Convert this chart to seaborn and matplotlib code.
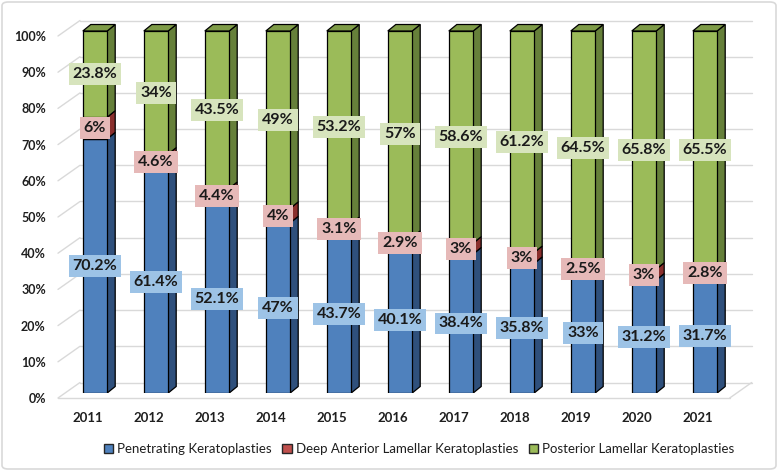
import matplotlib
matplotlib.use("Agg")
import matplotlib.pyplot as plt
import matplotlib.transforms as mtransforms
from matplotlib.patches import Polygon, Patch, FancyBboxPatch
import pandas as pd
import seaborn as sns

years = ["2011", "2012", "2013", "2014", "2015", "2016",
         "2017", "2018", "2019", "2020", "2021"]
penetrating = [70.2, 61.4, 52.1, 47, 43.7, 40.1, 38.4, 35.8, 33, 31.2, 31.7]
deep_anterior = [6, 4.6, 4.4, 4, 3.1, 2.9, 3, 3, 2.5, 3, 2.8]
posterior = [23.8, 34, 43.5, 49, 53.2, 57, 58.6, 61.2, 64.5, 65.8, 65.5]

series_names = ["Penetrating Keratoplasties",
                "Deep Anterior Lamellar Keratoplasties",
                "Posterior Lamellar Keratoplasties"]
front_cols = ["#4f81bd", "#c0504d", "#9bbb59"]
side_cols = ["#2f507c", "#8a2f2d", "#66803a"]
top_cols = ["#3f6aa0", "#a03c3a", "#7e9b47"]
box_cols = ["#9dc3e6", "#e6b9b8", "#d7e4bd"]

sns.set_theme(style="white")
plt.rcParams["font.family"] = ["Lato", "DejaVu Sans"]

W, H = 778, 471
fig = plt.figure(figsize=(W / 100, H / 100), dpi=100)
# axes spans the bar plane: x index i -> 95 + 61*i px, y 0 -> 393px, 100 -> 31px
left_px, right_px = 50, 760
ax = fig.add_axes([left_px / W, (H - 393) / H, (right_px - left_px) / W, (393 - 31) / H])

df = pd.DataFrame({"year": years, "pk": penetrating, "dalk": deep_anterior, "plk": posterior})
stack = [df["pk"], df["dalk"], df["plk"]]
bottoms = [df["pk"] * 0, df["pk"], df["pk"] + df["dalk"]]

for k in range(3):
    sns.barplot(x=df["year"], y=stack[k], bottom=bottoms[k], color=front_cols[k],
                saturation=1, width=0.4, edgecolor="black", linewidth=0.9,
                ax=ax, zorder=3)

# seaborn resets the categorical limits, so fix them afterwards
ax.set_xlim((left_px - 95) / 61, (right_px - 95) / 61)
ax.set_ylim(0, 100)

ppx = 61.0
ppy = (393 - 31) / 100.0
DX, DY = 8 / ppx, 6.5 / ppy

# 3D sides / tops from the drawn bar patches
bars = list(ax.patches)
n = len(years)
for k in range(3):
    for i in range(n):
        p = bars[k * n + i]
        x0, y0 = p.get_x(), p.get_y()
        x1, y1 = x0 + p.get_width(), y0 + p.get_height()
        side = Polygon([(x1, y0), (x1 + DX, y0 + DY), (x1 + DX, y1 + DY), (x1, y1)],
                       closed=True, facecolor=side_cols[k], edgecolor="black",
                       linewidth=0.9, zorder=2.5 + k * 0.01)
        ax.add_patch(side)
        if k == 2:
            top = Polygon([(x0, y1), (x0 + DX, y1 + DY), (x1 + DX, y1 + DY), (x1, y1)],
                          closed=True, facecolor=top_cols[k], edgecolor="black",
                          linewidth=0.9, zorder=3.1, clip_on=False)
            ax.add_patch(top)
            side.set_clip_on(False)
        # data label
        ax.text(x0 + p.get_width() / 2, y0 + p.get_height() / 2, f"{stack[k][i]:g}%",
                ha="center", va="center", fontsize=11.5, fontweight="bold", color="#1a1a1a",
                zorder=6, bbox=dict(boxstyle="square,pad=0.25", facecolor=box_cols[k],
                                    edgecolor="none"))

# walls / gridlines
fx, fy = -7 / ppx, -5 / ppy       # front plane offset
bx, by = 15 / ppx, 10.5 / ppy     # back plane offset
wl, wr = -0.492, 10.52
gc = "#d9d9d9"
for v in range(0, 101, 10):
    ax.plot([wl + bx, wr + bx], [v + by, v + by], color=gc, lw=1, zorder=1, clip_on=False)
    ax.plot([wl + fx, wl + bx], [v + fy, v + by], color=gc, lw=1, zorder=1, clip_on=False)
ax.plot([wl + fx, wr + fx], [fy, fy], color=gc, lw=1, zorder=1, clip_on=False)
ax.plot([wr + fx, wr + bx], [fy, by], color=gc, lw=1, zorder=1, clip_on=False)

for s in ax.spines.values():
    s.set_visible(False)
ax.set_xlabel("")
ax.set_ylabel("")
ax.set_yticks(range(0, 101, 10))
ax.set_yticklabels([f"{v}%" for v in range(0, 101, 10)])
ax.tick_params(axis="y", length=0, pad=3, labelsize=9, labelcolor="#1f1f1f")
ax.tick_params(axis="x", length=0, pad=14, labelsize=9.5, labelcolor="#1f1f1f")
for lab in ax.get_yticklabels() + ax.get_xticklabels():
    lab.set_fontweight("bold")
ysh = mtransforms.ScaledTranslation(0, -5 / 100, fig.dpi_scale_trans)
for lab in ax.get_yticklabels():
    lab.set_transform(lab.get_transform() + ysh)
xsh = mtransforms.ScaledTranslation(-7 / 100, 0, fig.dpi_scale_trans)
for lab in ax.get_xticklabels():
    lab.set_transform(lab.get_transform() + xsh)
ax.grid(False)

handles = [Patch(facecolor=c, edgecolor="#262626", linewidth=1) for c in front_cols]
fig.legend(handles, series_names, loc="center", bbox_to_anchor=(419 / W, 1 - 449 / H),
           ncol=3, frameon=False, fontsize=9.5, handlelength=0.7, handleheight=0.7,
           handletextpad=0.3, columnspacing=0.8, labelcolor="#1f1f1f")

frame = FancyBboxPatch((2 / W, 2 / H), 1 - 4 / W, 1 - 4 / H, boxstyle="round,pad=0,rounding_size=0.008",
                       transform=fig.transFigure, facecolor="none", edgecolor="#d9d9d9", lw=1.2)
fig.patches.append(frame)

fig.savefig("out.png", dpi=100)
